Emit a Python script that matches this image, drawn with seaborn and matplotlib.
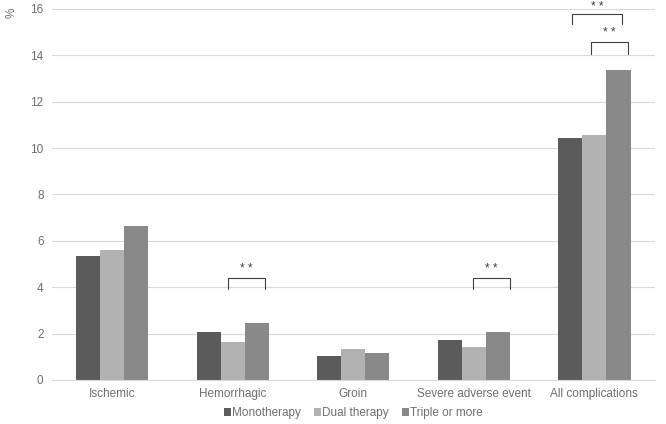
import matplotlib
matplotlib.use("Agg")
import matplotlib.pyplot as plt
import seaborn as sns
import pandas as pd

categories = ["Ischemic", "Hemorrhagic", "Groin", "Severe adverse event", "All complications"]
groups = ["Monotherapy", "Dual therapy", "Triple or more"]
mono = [5.35, 2.05, 1.05, 1.7, 10.45]
dual = [5.6, 1.65, 1.35, 1.4, 10.55]
triple = [6.65, 2.45, 1.15, 2.05, 13.35]
colors = ["#5b5b5b", "#b2b2b2", "#898989"]

# significance brackets: (category index, x offset start, x offset end, top y, leg y, star y)
brackets = [
    (1, -0.04, 0.27, 4.4, 3.92, 4.8),
    (3, -0.01, 0.30, 4.4, 3.92, 4.8),
    (4, -0.19, 0.23, 15.8, 15.35, 16.1),
    (4, -0.03, 0.28, 14.57, 14.05, 14.95),
]

rows = []
for vals, g in zip([mono, dual, triple], groups):
    for c, v in zip(categories, vals):
        rows.append({"Category": c, "Group": g, "Value": v})
df = pd.DataFrame(rows)

sns.set_style("white")
plt.rcParams["font.family"] = ["Liberation Sans", "DejaVu Sans"]

fig = plt.figure(figsize=(6.66, 4.24), dpi=100)
ax = fig.add_axes([0.078, 0.104, 0.905, 0.875])
sns.barplot(data=df, x="Category", y="Value", hue="Group", palette=colors,
            width=0.6, gap=0, saturation=1, ax=ax, edgecolor="none")

ax.set_ylim(0, 16)
ax.set_xlim(-0.5, len(categories) - 0.5)
ax.set_yticks(range(0, 17, 2))
ax.yaxis.grid(True, color="#d9d9d9", linewidth=0.8)
ax.set_axisbelow(True)
for s in ["top", "right", "left"]:
    ax.spines[s].set_visible(False)
ax.spines["bottom"].set_color("#d9d9d9")
ax.tick_params(axis="both", length=0, labelsize=8.5, colors="#6f6f6f", pad=6)
ax.set_xlabel("")
ax.set_ylabel("")
ax.text(-0.067, 0.99, "%", transform=ax.transAxes, rotation=90, fontsize=8.5,
        color="#6f6f6f", ha="center", va="center")

for idx, x0, x1, top, leg, star in brackets:
    xa, xb = idx + x0, idx + x1
    ax.plot([xa, xa, xb, xb], [leg, top, top, leg], color="#404040", linewidth=0.8,
            clip_on=False)
    ax.text((xa + xb) / 2, star, "* *", ha="center", va="center", fontsize=8.5,
            color="#404040", clip_on=False)

handles, labels = ax.get_legend_handles_labels()
ax.legend(handles, labels, loc="center", bbox_to_anchor=(0.5, -0.089), ncol=3,
          frameon=False, fontsize=8.5, handlelength=0.6, handleheight=0.6,
          handletextpad=0.1, columnspacing=1.1, labelcolor="#6f6f6f",
          borderpad=0, borderaxespad=0)

fig.savefig("out.png", dpi=100)
